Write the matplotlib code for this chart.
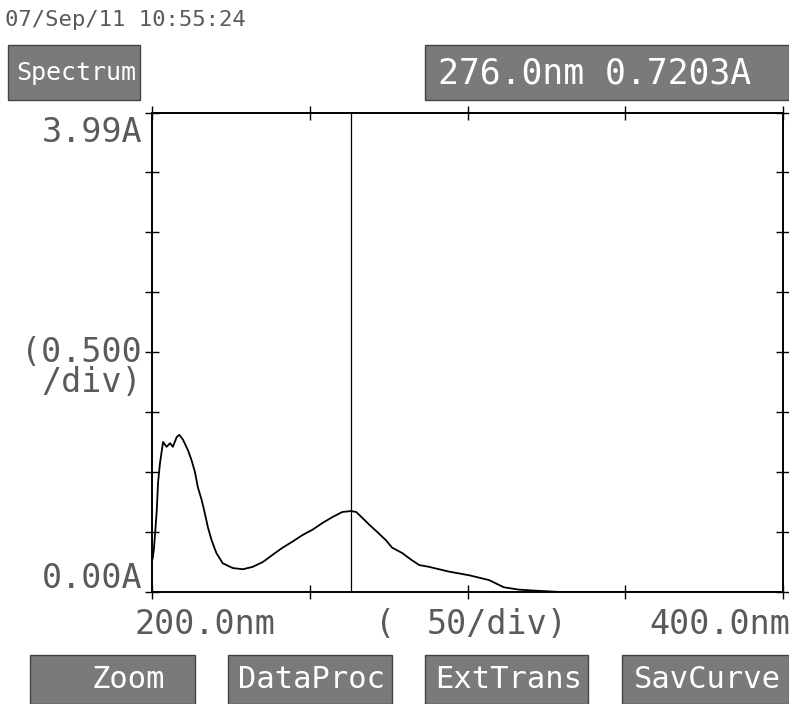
import numpy as np
import matplotlib.pyplot as plt
from matplotlib.patches import Rectangle

# spectrum (nm, absorbance)
wavelength = [200.2, 200.6, 201.0, 201.5, 201.9, 202.5, 203.1, 203.5, 204.6, 205.7,
              206.6, 207.8, 208.6, 209.8, 211.4, 212.5, 213.6, 214.5, 215.7, 216.7,
              217.7, 218.9, 220.4, 222.4, 225.6, 228.8, 231.9, 235.1, 238.2, 241.4,
              244.5, 247.7, 250.9, 254.0, 257.2, 260.3, 263.1, 264.7, 266.7, 268.9,
              271.4, 274.2, 276.1, 279.3, 282.1, 284.7, 287.8, 294.2, 300.5, 306.8,
              311.5, 316.3, 322.6, 330.0, 360.0, 400.0]
absorb = [0.28, 0.36, 0.50, 0.68, 0.91, 1.07, 1.18, 1.25, 1.21, 1.24,
          1.21, 1.29, 1.31, 1.27, 1.18, 1.10, 1.00, 0.875, 0.77, 0.66,
          0.54, 0.43, 0.325, 0.24, 0.20, 0.19, 0.21, 0.25, 0.31, 0.37,
          0.42, 0.475, 0.52, 0.575, 0.625, 0.667, 0.675, 0.667, 0.617, 0.56,
          0.50, 0.43, 0.37, 0.325, 0.27, 0.225, 0.21, 0.17, 0.14, 0.10,
          0.04, 0.02, 0.01, 0.0, 0.0, 0.0]
cursor_nm = 263.0
x_ticks = [200, 250, 300, 350, 400]
y_ticks = [0.0, 0.5, 1.0, 1.5, 2.0, 2.5, 3.0, 3.5, 3.99]
buttons = ['Zoom', 'DataProc', 'ExtTrans', 'SavCurve']

mono = 'DejaVu Sans Mono'
grey = '#5a5a5a'
boxgrey = '#7a7a7a'

fig = plt.figure(figsize=(7.89, 7.04), dpi=100)
ax = fig.add_axes([0.1927, 0.159, 0.7997, 0.6804])
ax.plot(wavelength, absorb, color='black', lw=1.3)
ax.axvline(cursor_nm, color='black', lw=0.9)
ax.set_xlim(200, 400)
ax.set_ylim(0, 3.99)
ax.set_xticks(x_ticks)
ax.set_yticks(y_ticks)
ax.set_xticklabels([])
ax.set_yticklabels([])
ax.tick_params(direction='inout', length=10, width=1.0, top=True, right=True)
for s in ax.spines.values():
    s.set_linewidth(1.4)

def px(x, y):
    return x / 789, 1 - y / 704

def gbox(x0, y0, x1, y1):
    fx, fy = px(x0, y1)
    fig.patches.append(Rectangle((fx, fy), (x1 - x0) / 789, (y1 - y0) / 704,
                                 transform=fig.transFigure, facecolor=boxgrey,
                                 edgecolor='#444444', lw=1))

# header
fig.text(*px(5, 20), '07/Sep/11 10:55:24', family=mono, fontsize=16, color=grey, va='center')

gbox(8, 45, 140, 100)
fig.text(*px(76, 73), 'Spectrum', family=mono, fontsize=18, color='white', ha='center', va='center')
gbox(425, 45, 789, 100)
fig.text(*px(438, 73), '276.0nm 0.7203A', family=mono, fontsize=25, color='white', ha='left', va='center')

# y labels
lab = dict(family=mono, fontsize=24, color=grey, va='center')
fig.text(*px(142, 133), '3.99A', ha='right', **lab)
fig.text(*px(142, 352), '(0.500', ha='right', **lab)
fig.text(*px(142, 383), '/div)', ha='right', **lab)
fig.text(*px(142, 578), '0.00A', ha='right', **lab)

# x labels
fig.text(*px(205, 624), '200.0nm', ha='center', **lab)
fig.text(*px(385, 624), '(', ha='center', **lab)
fig.text(*px(497, 624), '50/div)', ha='center', **lab)
fig.text(*px(720, 624), '400.0nm', ha='center', **lab)

# bottom buttons
spans = [(30, 195), (228, 392), (425, 588), (622, 789)]
text_x = [128, 312, 509, 707]
for name, (x0, x1), tx in zip(buttons, spans, text_x):
    gbox(x0, 655, x1, 704)
    fig.text(*px(tx, 680), name, family=mono, fontsize=22,
             color='white', ha='center', va='center')

fig.savefig('out.png', dpi=100, facecolor='white')
